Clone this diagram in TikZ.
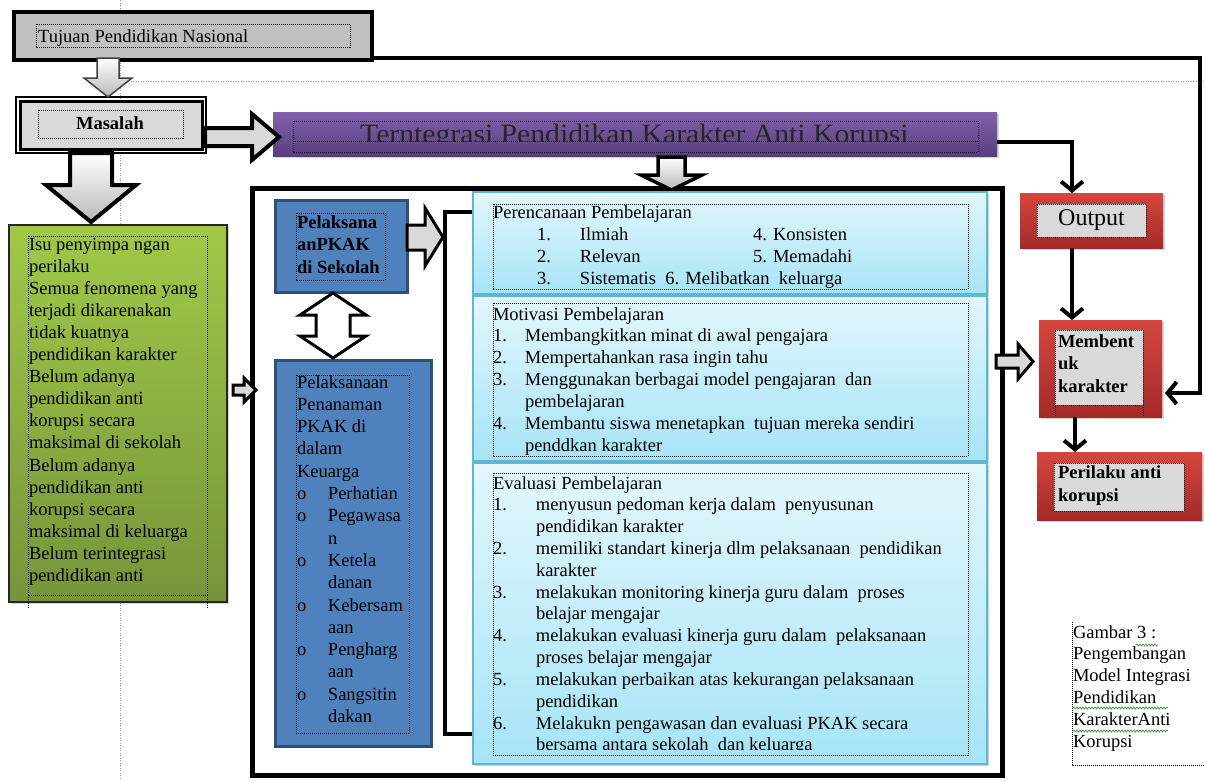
\documentclass[tikz,border=0pt]{standalone}
\usepackage{fontspec}
\setmainfont{Liberation Serif}
\newfontfamily\wideserif[FakeStretch=1.06]{Liberation Serif}
\usetikzlibrary{arrows.meta,shadows,decorations.pathmorphing,calc}

\definecolor{boxgray}{HTML}{C0C0C0}
\definecolor{softgray}{HTML}{D9D9D9}
\definecolor{purpletop}{HTML}{8262AC}
\definecolor{purplebot}{HTML}{5A3D80}
\definecolor{greentop}{HTML}{A0C948}
\definecolor{greenbot}{HTML}{76953A}
\definecolor{bluefill}{HTML}{4F81BD}
\definecolor{blueedge}{HTML}{2E4F78}
\definecolor{redtop}{HTML}{D5463F}
\definecolor{redbot}{HTML}{A42A28}
\definecolor{cyantop}{HTML}{E4F7FD}
\definecolor{cyanbot}{HTML}{A6E4F6}
\definecolor{cyanedge}{HTML}{5CB8D6}
\definecolor{guide}{HTML}{9A9A9A}
\definecolor{spellgreen}{HTML}{3C9A3C}

% strut that fixes the height of a first text line
\newcommand\firstline{\rule{0pt}{15pt}}
\newcommand\bulo{\makebox[31pt][l]{o}}
\newcommand\bulind{\hspace*{31pt}}

\begin{document}
\begin{tikzpicture}[x=1pt,y=-1pt,
  box/.style={rectangle, inner sep=0pt, outer sep=0pt, anchor=north west},
  tbframe/.style={draw=black, line width=1pt, dash pattern=on 1pt off 1pt},
  guideline/.style={draw=guide, line width=0.8pt, dash pattern=on 1pt off 1.5pt},
  body/.style={inner sep=0pt, outer sep=0pt, anchor=north west, align=left,
    font=\fontsize{18.5pt}{22.1pt}\selectfont},
  conn/.style={line width=4pt, line join=miter,
    -{Straight Barb[length=9pt,width=22pt]}},
  blockarrow/.style={draw=black, line width=3.5pt, line join=miter,
    top color=white, bottom color=gray!55},
  softshadow/.style={drop shadow={shadow xshift=2pt, shadow yshift=-2pt, opacity=0.35}},
  redbox/.style={box, top color=redtop, bottom color=redbot, softshadow},
  cyanpanel/.style={box, draw=cyanedge, line width=1.5pt, top color=cyantop, bottom color=cyanbot, softshadow},
  bluebox/.style={box, draw=blueedge, line width=3pt, fill=bluefill, softshadow},
  innergray/.style={box, fill=softgray, tbframe},
  spell/.style={draw=spellgreen, line width=0.7pt, decorate,
    decoration={snake, amplitude=1pt, segment length=3pt}}
]
\useasboundingbox (0,0) rectangle (1205,780);

% layout guides
\draw[guideline] (120,0) -- (120,780);
\draw[guideline] (128,81) -- (1205,81);

% ---------- top row ----------
\node[box, draw=black, line width=4pt, fill=boxgray, minimum width=358pt, minimum height=48pt] (tujuan) at (14,12) {};
\draw[tbframe] (36,24) rectangle (350,47);
\node[anchor=base west, inner sep=0pt, font=\fontsize{18.5pt}{22pt}\selectfont] (tujuanT) at (38,42) {Tujuan Pendidikan Nasional};

\node[box, draw=black, line width=3pt, fill=softgray, minimum width=182pt, minimum height=48pt] (masalah) at (20,101) {};
\draw[line width=1.2pt] ($(masalah.north west)+(-4,-4)$) rectangle ($(masalah.south east)+(4,4)$);
\draw[tbframe] (38,110) rectangle (183,138);
\node[anchor=base, inner sep=0pt, font=\fontsize{18.5pt}{22pt}\selectfont\bfseries] (masalahT) at (110,129) {Masalah};

\node[box, top color=purpletop, bottom color=purplebot, minimum width=724pt, minimum height=44pt, softshadow] (purple) at (273,112) {};
\draw[tbframe] (293,121) rectangle (978,152);
\begin{scope}
  \clip (293,121) rectangle (978,141);
  \node[anchor=base west, inner sep=0pt, font=\wideserif\fontsize{28pt}{30pt}\selectfont, text=black!85] (purpleT) at (360,143.5) {Terntegrasi Pendidikan Karakter Anti Korupsi};
\end{scope}
\draw[tbframe] (293,141) -- (978,141);

% ---------- block arrows from the top ----------
\draw[blockarrow, line width=1.5pt, draw=black!75] (97,58) -- (119,58) -- (119,78) -- (132,78) -- (108,97) -- (84,78) -- (97,78) -- cycle;
\draw[blockarrow, line width=4pt] (70,153) -- (112,153) -- (112,185) -- (136,185) -- (91,222) -- (46,185) -- (70,185) -- cycle;
\draw[blockarrow, line width=4pt, top color=softgray, bottom color=softgray] (205,128) -- (252,128) -- (252,114) -- (279,137) -- (252,160) -- (252,146) -- (205,146) -- cycle;

% ---------- problem list ----------
\node[box, draw=black!85, line width=1.5pt, top color=greentop, bottom color=greenbot, minimum width=218pt, minimum height=377pt, softshadow] (green) at (9,225) {};
\draw[tbframe] (28,236) rectangle (207,595);
\draw[tbframe] (28,595) -- (28,608);
\draw[tbframe] (207,595) -- (207,608);
\node[body] (greenT) at (29,235) {\firstline Isu penyimpa ngan\\ perilaku\\ Semua fenomena yang\\ terjadi dikarenakan\\ tidak kuatnya\\ pendidikan karakter\\ Belum adanya\\ pendidikan anti\\ korupsi secara\\ maksimal di sekolah\\ Belum adanya\\ pendidikan anti\\ korupsi secara\\ maksimal di keluarga\\ Belum terintegrasi\\ pendidikan anti};

% ---------- main frame ----------
\node[box, draw=black, line width=5pt, minimum width=750pt, minimum height=587pt] (outerbox) at (252,188) {};

\draw[blockarrow, line width=3.5pt] (658,157) -- (685,157) -- (685,175) -- (702,175) -- (671.5,190) -- (641,175) -- (658,175) -- cycle;
\draw[blockarrow, line width=3pt, top color=softgray, bottom color=softgray] (233,385) -- (244,385) -- (244,378) -- (256,390) -- (244,402) -- (244,395) -- (233,395) -- cycle;

% implementation boxes
\node[bluebox, minimum width=132pt, minimum height=92pt] (blueA) at (275,200) {};
\draw[tbframe] (296,213) rectangle (385,280);
\node[body, font=\fontsize{18.5pt}{22.5pt}\selectfont\bfseries] (blueAT) at (297,213) {\firstline Pelaksana\\ anPKAK\\ di Sekolah};

\node[bluebox, minimum width=156pt, minimum height=386pt] (blueB) at (275,360) {};
\draw[tbframe] (296,375) rectangle (409,733);
\node[body, font=\fontsize{18.5pt}{22.3pt}\selectfont] (blueBT) at (297,373) {\firstline Pelaksanaan\\ Penanaman\\ PKAK di\\ dalam\\ Keuarga\\ \bulo Perhatian\\ \bulo Pegawasa\\ \bulind n\\ \bulo Ketela\\ \bulind danan\\ \bulo Kebersam\\ \bulind aan\\ \bulo Pengharg\\ \bulind aan\\ \bulo Sangsitin\\ \bulind dakan};

\draw[blockarrow, line width=3pt, top color=white, bottom color=white] (333,293) -- (366,315) -- (350,315) -- (350,336) -- (366,336) -- (333,358) -- (300,336) -- (316,336) -- (316,315) -- (300,315) -- cycle;
\draw[blockarrow, line width=3pt, top color=softgray, bottom color=softgray] (407,225) -- (425,225) -- (425,208) -- (443,237) -- (425,266) -- (425,250) -- (407,250) -- cycle;

% bracket joining the learning stages
\draw[line width=4pt, line join=miter] (475,212) -- (445,212) -- (445,734) -- (475,734);

% learning stages
\node[cyanpanel, minimum width=514pt, minimum height=102pt] (panelA) at (473,192) {};
\node[cyanpanel, minimum width=514pt, minimum height=165pt] (panelB) at (473,296) {};
\node[cyanpanel, minimum width=514pt, minimum height=301pt] (panelC) at (473,463) {};

\draw[tbframe] (493,204) rectangle (968,289);
\begin{scope}
  \clip (493,204) rectangle (968,288);
  \node[body, font=\fontsize{18.5pt}{22pt}\selectfont] (panelAT) at (493,203) {\firstline Perencanaan Pembelajaran\\
  \hspace*{44pt}\makebox[43pt][l]{1.}\makebox[173pt][l]{Ilmiah}4. Konsisten\\
  \hspace*{44pt}\makebox[43pt][l]{2.}\makebox[173pt][l]{Relevan}5. Memadahi\\
  \hspace*{44pt}\makebox[43pt][l]{3.}Sistematis\ \ 6. Melibatkan\ \ keluarga};
\end{scope}

\draw[tbframe] (493,303) rectangle (968,456);
\node[body, font=\fontsize{18.5pt}{21.9pt}\selectfont] (panelBT) at (493,305) {\firstline Motivasi Pembelajaran\\
  \makebox[32pt][l]{1.}Membangkitkan minat di awal pengajara\\
  \makebox[32pt][l]{2.}Mempertahankan rasa ingin tahu\\
  \makebox[32pt][l]{3.}Menggunakan berbagai model pengajaran\ \ dan\\
  \hspace*{32pt}pembelajaran\\
  \makebox[32pt][l]{4.}Membantu siswa menetapkan\ \ tujuan mereka sendiri\\
  \hspace*{32pt}penddkan karakter};

\draw[tbframe] (493,473) rectangle (968,755);
\begin{scope}
  \clip (493,473) rectangle (968,749);
  \node[body, font=\fontsize{18.5pt}{21.83pt}\selectfont] (panelCT) at (493,474) {\firstline Evaluasi Pembelajaran\\
  \makebox[43pt][l]{1.}menyusun pedoman kerja dalam\ \ penyusunan\\
  \hspace*{43pt}pendidikan karakter\\
  \makebox[43pt][l]{2.}memiliki standart kinerja dlm pelaksanaan\ \ pendidikan\\
  \hspace*{43pt}karakter\\
  \makebox[43pt][l]{3.}melakukan monitoring kinerja guru dalam\ \ proses\\
  \hspace*{43pt}belajar mengajar\\
  \makebox[43pt][l]{4.}melakukan evaluasi kinerja guru dalam\ \ pelaksanaan\\
  \hspace*{43pt}proses belajar mengajar\\
  \makebox[43pt][l]{5.}melakukan perbaikan atas kekurangan pelaksanaan\\
  \hspace*{43pt}pendidikan\\
  \makebox[43pt][l]{6.}Melakukn pengawasan dan evaluasi PKAK secara\\
  \hspace*{43pt}bersama antara sekolah\ \ dan keluarga};
\end{scope}

% ---------- outcomes ----------
\node[redbox, minimum width=143pt, minimum height=55pt] (output) at (1020,193) {};
\node[innergray, minimum width=109pt, minimum height=33pt] (outputIn) at (1037,204) {};
\node[anchor=base, inner sep=0pt, font=\fontsize{24pt}{26pt}\selectfont] (outputT) at (1091.5,225) {Output};

\node[redbox, minimum width=123pt, minimum height=97pt] (membentuk) at (1039,320) {};
\node[innergray, minimum width=88pt, minimum height=75pt] (membentukIn) at (1055,330) {};
\draw[tbframe] (membentukIn.south west) -- ++(0,12);
\draw[tbframe] (membentukIn.south east) -- ++(0,12);
\node[body, font=\fontsize{18.5pt}{22.5pt}\selectfont\bfseries] (membentukT) at (1058,332) {\firstline Membent\\ uk\\ karakter};

\node[redbox, minimum width=165pt, minimum height=68pt] (perilaku) at (1037,452) {};
\node[innergray, minimum width=130pt, minimum height=48pt] (perilakuIn) at (1054,463) {};
\node[body, font=\fontsize{18.5pt}{23.5pt}\selectfont\bfseries] (perilakuT) at (1058,463) {\firstline Perilaku anti\\ korupsi};

\draw[blockarrow, line width=3pt, top color=softgray, bottom color=softgray] (996,355) -- (1018,355) -- (1018,344) -- (1033,361.5) -- (1018,379) -- (1018,368) -- (996,368) -- cycle;

% ---------- connectors ----------
\coordinate (outTop) at ($(output.north west)+(52,0)$);
\coordinate (outBottom) at ($(output.south west)+(52,0)$);
\coordinate (membTop) at ($(membentuk.north west)+(33,0)$);
\coordinate (membBottom) at ($(membentuk.south west)+(36,0)$);
\coordinate (perTop) at ($(perilaku.north west)+(38,0)$);
\coordinate (membSide) at ($(membentuk.south east)+(3,-24)$);

\draw[conn] ([yshift=2pt]tujuan.south east) -| ($(membSide)+(35,0)$) -- (membSide);
\draw[conn] ([yshift=-8pt]purple.east) -| (outTop);
\draw[conn] (outBottom) -- (membTop);
\draw[conn] (membBottom) -- (perTop);

% ---------- caption ----------
\draw[tbframe] (1072,622) -- (1072,765) -- (1205,765);
\node[body, font=\fontsize{18.5pt}{21.8pt}\selectfont] (caption) at (1073,623) {\firstline Gambar 3 :\\ Pengembangan\\ Model Integrasi\\ Pendidikan\\ KarakterAnti\\ Korupsi};
\draw[spell] (1136,645) -- (1158,645);
\draw[spell] (1073,708) -- (1168,708);
\draw[spell] (1073,731) -- (1168,731);

\end{tikzpicture}
\end{document}
